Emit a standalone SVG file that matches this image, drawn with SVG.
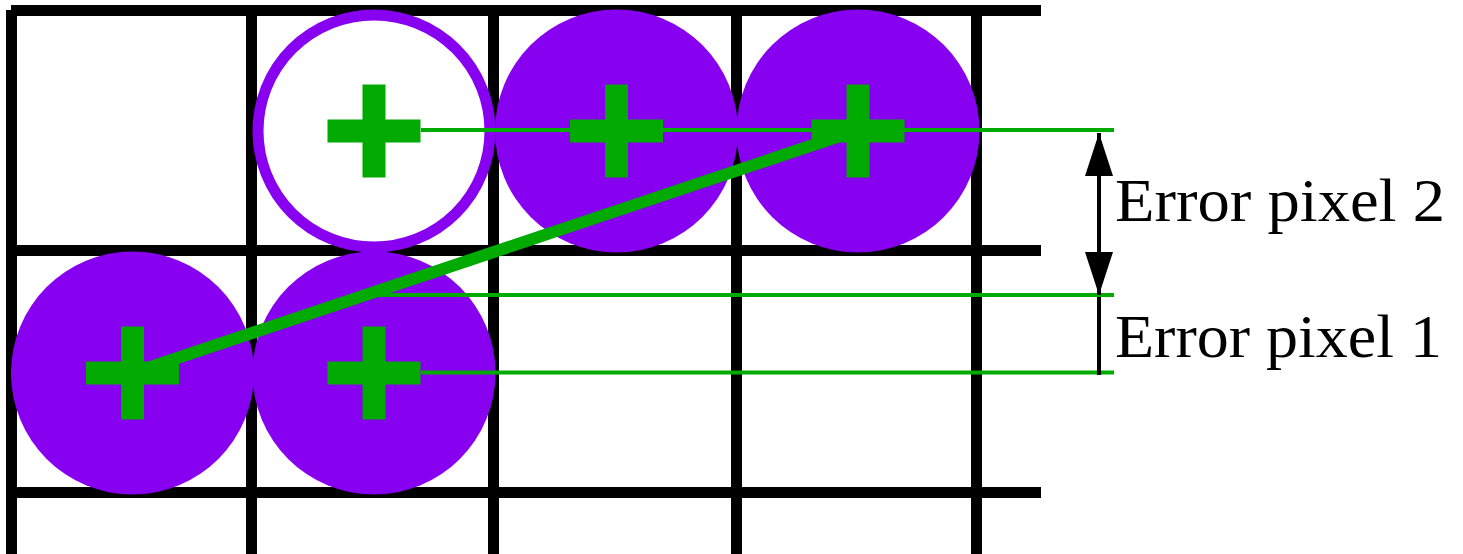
<svg xmlns="http://www.w3.org/2000/svg" width="1463" height="554" viewBox="0 0 1463 554">
  <style>
    .grid { stroke: #000000; stroke-width: 11; fill: none; }
    .pix { fill: #8800f0; }
    .pix-hollow { fill: #ffffff; stroke: #8800f0; stroke-width: 11; }
    .cross { fill: #00aa00; }
    .thin { stroke: #00aa00; stroke-width: 4; fill: none; }
    .thick { stroke: #00aa00; stroke-width: 12; fill: none; }
    .dim { stroke: #000000; stroke-width: 4; fill: none; }
    .label { font-family: "Liberation Serif", "DejaVu Serif", serif; font-size: 61px; fill: #000000; }
  </style>
  <defs>
    <marker id="arrow" markerUnits="userSpaceOnUse" markerWidth="43" markerHeight="28" refX="43" refY="14" orient="auto-start-reverse">
      <path d="M0,0 L43,14 L0,28 Z" fill="#000000"/>
    </marker>
    <g id="plus">
      <rect x="-46.5" y="-11.5" width="93" height="23"/>
      <rect x="-11.5" y="-46.5" width="23" height="93"/>
    </g>
  </defs>
  <rect width="1463" height="554" fill="#ffffff"/>

  <g id="grid" class="grid">
    <line x1="11" y1="10.5" x2="1041" y2="10.5"/>
    <line x1="11" y1="250.5" x2="1041" y2="250.5"/>
    <line x1="11" y1="492.5" x2="1041" y2="492.5"/>
    <line x1="11.5" y1="10" x2="11.5" y2="554"/>
    <line x1="251.5" y1="5" x2="251.5" y2="554"/>
    <line x1="493.5" y1="5" x2="493.5" y2="554"/>
    <line x1="736.5" y1="5" x2="736.5" y2="554"/>
    <line x1="976.5" y1="5" x2="976.5" y2="554"/>
  </g>

  <g id="pixel-1">
    <circle class="pix" cx="132.5" cy="373" r="121.5"/>
  </g>
  <g id="pixel-2">
    <circle class="pix" cx="374" cy="373" r="121.5"/>
  </g>
  <g id="pixel-empty">
    <circle class="pix-hollow" cx="374" cy="131" r="116"/>
  </g>
  <g id="pixel-3">
    <circle class="pix" cx="616.5" cy="131" r="121.5"/>
  </g>
  <g id="pixel-4">
    <circle class="pix" cx="858" cy="131" r="121.5"/>
  </g>

  <g id="connectors">
    <line class="thin" x1="421" y1="130" x2="1114" y2="130"/>
    <line class="thin" x1="375" y1="295" x2="1114" y2="295"/>
    <line class="thin" x1="421" y1="372.5" x2="1114" y2="372.5"/>
    <line class="thick" x1="132.5" y1="373" x2="858" y2="130"/>
    <line class="dim" x1="1099" y1="133" x2="1099" y2="295" marker-start="url(#arrow)" marker-end="url(#arrow)"/>
    <line class="dim" x1="1099" y1="297" x2="1099" y2="375"/>
  </g>

  <g id="centers" class="cross">
    <use href="#plus" x="132.5" y="373"/>
    <use href="#plus" x="374" y="373"/>
    <use href="#plus" x="374" y="131"/>
    <use href="#plus" x="616.5" y="131"/>
    <use href="#plus" x="858" y="131"/>
  </g>

  <g id="labels">
    <text class="label" x="1115" y="221" textLength="330" lengthAdjust="spacingAndGlyphs">Error pixel 2</text>
    <text class="label" x="1115" y="357" textLength="327" lengthAdjust="spacingAndGlyphs">Error pixel 1</text>
  </g>
</svg>
